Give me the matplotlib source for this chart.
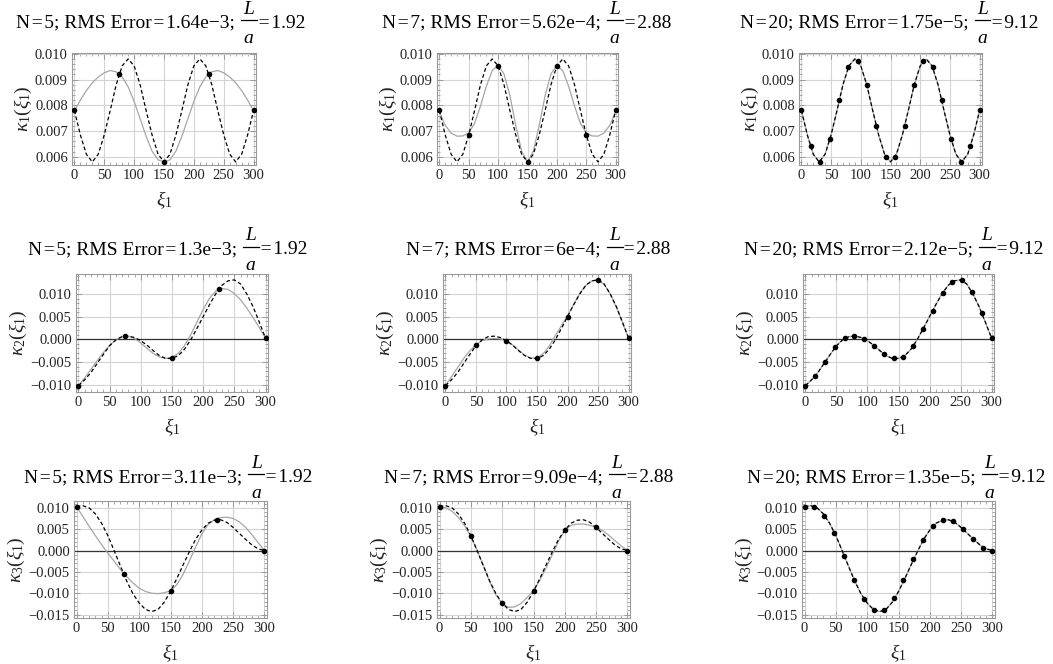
import matplotlib
matplotlib.use("Agg")
import matplotlib.pyplot as plt
from matplotlib.lines import Line2D
from matplotlib.ticker import MultipleLocator, FuncFormatter

plt.rcParams['font.family'] = ['Liberation Serif', 'DejaVu Serif']
plt.rcParams['mathtext.fontset'] = 'custom'
plt.rcParams['mathtext.rm'] = 'Liberation Serif'
plt.rcParams['mathtext.it'] = 'Liberation Serif:italic'
plt.rcParams['mathtext.bf'] = 'Liberation Serif:bold'

# --- data ---
xi = [0, 10, 20, 30, 40, 50, 60, 70, 80, 90, 100, 110, 120, 130, 140, 150,
      160, 170, 180, 190, 200, 210, 220, 230, 240, 250, 260, 270, 280, 290, 300]

# exact curvatures (dashed)
k1_true = [0.0078, 0.00685, 0.0061, 0.0058, 0.0061, 0.00685, 0.0078, 0.0088, 0.00953, 0.0098, 0.00953,
           0.0088, 0.0078, 0.00685, 0.0061, 0.0058, 0.0061, 0.00685, 0.0078, 0.0088, 0.00953,
           0.0098, 0.00953, 0.0088, 0.0078, 0.00685, 0.0061, 0.0058, 0.0061, 0.00685, 0.0078]
k2_true = [-0.0102, -0.0089, -0.0073, -0.0053, -0.0033, -0.0014, -0.0001, 0.0006, 0.0007, 0.0004, -0.0003,
           -0.0013, -0.0025, -0.0036, -0.0042, -0.0042, -0.0036, -0.0022, -0.0001, 0.0024, 0.0050,
           0.0076, 0.0100, 0.0119, 0.0129, 0.0131, 0.0122, 0.0100, 0.0072, 0.0038, 0.0003]
k3_true = [0.0103, 0.0105, 0.0100, 0.0086, 0.0064, 0.0035, 0.0000, -0.0036, -0.0071, -0.0101, -0.0123,
           -0.0138, -0.0143, -0.0138, -0.0121, -0.0096, -0.0066, -0.0034, -0.0003, 0.0026, 0.0048,
           0.0064, 0.0071, 0.0072, 0.0066, 0.0054, 0.0040, 0.0026, 0.0013, 0.0004, 0.0000]

# reconstructed curvatures (gray), N=5 and N=7
k1_n5 = [0.00778, 0.0082, 0.00857, 0.00887, 0.0091, 0.00926, 0.00935, 0.0093, 0.0091, 0.00872, 0.00815,
         0.00748, 0.0068, 0.00622, 0.00588, 0.0058, 0.00588, 0.00622, 0.0068, 0.00748, 0.00815,
         0.00872, 0.0091, 0.0093, 0.00935, 0.00926, 0.0091, 0.00887, 0.00857, 0.0082, 0.00778]
k1_n7 = [0.00775, 0.00722, 0.00692, 0.0068, 0.00681, 0.00693, 0.0073, 0.00797, 0.00874, 0.00935, 0.00955,
         0.00922, 0.00838, 0.00722, 0.00622, 0.0058, 0.00622, 0.00722, 0.00838, 0.00922, 0.00955,
         0.00935, 0.00874, 0.00797, 0.0073, 0.00693, 0.00681, 0.0068, 0.00692, 0.00722, 0.00775]
k2_n5 = [-0.0102, -0.0085, -0.0066, -0.0047, -0.0029, -0.0013, -0.0001, 0.0006, 0.0007, 0.0002, -0.0008,
         -0.0020, -0.0031, -0.0039, -0.0042, -0.0040, -0.0031, -0.0014, 0.0010, 0.0038, 0.0066,
         0.0090, 0.0106, 0.0112, 0.0110, 0.0101, 0.0087, 0.0069, 0.0048, 0.0026, 0.0003]
k2_n7 = [-0.0102, -0.0082, -0.0062, -0.0042, -0.0025, -0.0012, -0.0003, 0.0001, 0.0002, 0.0001, -0.0003,
         -0.0012, -0.0024, -0.0035, -0.0041, -0.0041, -0.0032, -0.0015, 0.0008, 0.0030, 0.0052,
         0.0077, 0.0101, 0.0119, 0.0129, 0.0130, 0.0121, 0.0100, 0.0071, 0.0037, 0.0003]
k3_n5 = [0.0103, 0.0080, 0.0057, 0.0035, 0.0014, -0.0006, -0.0025, -0.0044, -0.0061, -0.0076, -0.0088,
         -0.0096, -0.0100, -0.0101, -0.0099, -0.0094, -0.0080, -0.0056, -0.0025, 0.0008, 0.0039,
         0.0061, 0.0072, 0.0077, 0.0078, 0.0075, 0.0067, 0.0054, 0.0037, 0.0018, 0.0000]
k3_n7 = [0.0103, 0.0100, 0.0092, 0.0078, 0.0058, 0.0033, 0.0001, -0.0035, -0.0073, -0.0104, -0.0124,
         -0.0133, -0.0132, -0.0124, -0.0110, -0.0093, -0.0070, -0.0041, -0.0010, 0.0022, 0.0047,
         0.0059, 0.0062, 0.0062, 0.0059, 0.0055, 0.0047, 0.0036, 0.0023, 0.0011, 0.0000]

# sample points
x5 = [0, 75, 150, 225, 300]
x7 = [0, 50, 100, 150, 200, 250, 300]
x20 = [0, 15.8, 31.6, 47.4, 63.2, 78.9, 94.7, 110.5, 126.3, 142.1, 157.9, 173.7,
       189.5, 205.3, 221.1, 236.8, 252.6, 268.4, 284.2, 300]
k1_s5 = [0.0078, 0.0092, 0.0058, 0.0092, 0.0078]
k1_s7 = [0.0078, 0.00685, 0.00953, 0.0058, 0.00953, 0.00685, 0.0078]
k1_s20 = [0.0078, 0.0064, 0.0058, 0.0067, 0.0082, 0.0095, 0.0097, 0.0088, 0.0072, 0.0060,
          0.0060, 0.0072, 0.0088, 0.0097, 0.0095, 0.0082, 0.0067, 0.0058, 0.0064, 0.0078]
k2_s5 = [-0.0102, 0.0007, -0.0042, 0.0110, 0.0003]
k2_s7 = [-0.0102, -0.0013, -0.0003, -0.0042, 0.0050, 0.0131, 0.0003]
k2_s20 = [-0.0102, -0.0080, -0.0050, -0.0017, 0.0002, 0.0007, 0.0001, -0.0014, -0.0032, -0.0042,
          -0.0038, -0.0015, 0.0022, 0.0063, 0.0102, 0.0127, 0.0130, 0.0104, 0.0059, 0.0003]
k3_s5 = [0.0103, -0.0054, -0.0095, 0.0072, 0.0000]
k3_s7 = [0.0103, 0.0034, -0.0123, -0.0095, 0.0048, 0.0054, 0.0000]
k3_s20 = [0.0103, 0.0103, 0.0081, 0.0041, -0.0012, -0.0068, -0.0113, -0.0140, -0.0139, -0.0112,
          -0.0069, -0.0020, 0.0025, 0.0057, 0.0071, 0.0070, 0.0051, 0.0027, 0.0006, 0.0000]

n_vals = [5, 7, 20]
l_over_a = ["1.92", "2.88", "9.12"]
rms = [["1.64e\u22123", "5.62e\u22124", "1.75e\u22125"],
       ["1.3e\u22123", "6e\u22124", "2.12e\u22125"],
       ["3.11e\u22123", "9.09e\u22124", "1.35e\u22125"]]

true_curves = [k1_true, k2_true, k3_true]
approx = [[k1_n5, k1_n7, k1_true], [k2_n5, k2_n7, k2_true], [k3_n5, k3_n7, k3_true]]
samples_x = [x5, x7, x20]
samples_y = [[k1_s5, k1_s7, k1_s20], [k2_s5, k2_s7, k2_s20], [k3_s5, k3_s7, k3_s20]]
ylabels = [r"$\kappa_{\mathit{1}}(\xi_{\mathit{1}})$",
           r"$\kappa_{\mathit{2}}(\xi_{\mathit{1}})$",
           r"$\kappa_{\mathit{3}}(\xi_{\mathit{1}})$"]

# --- layout (pixel boxes: left, top, right, bottom) ---
W, H = 1053, 664
boxes = [[(72, 53, 256, 165), (437, 53, 618, 165), (799, 53, 982, 165)],
         [(76, 274, 268, 392), (443, 274, 631, 392), (803, 274, 994, 392)],
         [(74, 501, 267, 618), (437, 501, 630, 618), (802, 501, 995, 618)]]
title_cx = [[160, 526, 889], [167, 538, 893], [168, 528, 896]]
title_base = [27.5, 254.5, 482]
ylims = [(0.00568, 0.01003), (-0.0116, 0.0144), (-0.0158, 0.0116)]
ymajor = [0.001, 0.005, 0.005]
yminor = [0.0002, 0.001, 0.001]

fig = plt.figure(figsize=(W / 100, H / 100), dpi=100)
fig.patch.set_facecolor('white')
renderer = fig.canvas.get_renderer()

fmt = FuncFormatter(lambda v, p: ("%.3f" % v).replace("-", "\u2212") if abs(v) > 1e-9 else "0.000")
TS = 14
EQ = "\u200a=\u200a"


def ptext(x, y, s, **kw):
    # text placed in pixel coords measured from top-left
    return fig.text(x / W, 1 - y / H, s, fontsize=TS, va='baseline', **kw)


def width(t):
    return t.get_window_extent(renderer).width


def fraction_title(cx, base, main, value):
    t1 = ptext(0, base, main, ha='left')
    tl = ptext(0, base - 14, "L", ha='center', style='italic')
    ta = ptext(0, base + 15.5, "a", ha='center', style='italic')
    t3 = ptext(0, base, EQ + value, ha='left')
    w1, w3 = width(t1), width(t3)
    wf = max(width(tl), width(ta)) + 5
    x0 = cx - (w1 + wf + w3) / 2
    t1.set_x(x0 / W)
    xf = x0 + w1 + 1
    tl.set_x((xf + wf / 2) / W)
    ta.set_x((xf + wf / 2) / W)
    t3.set_x((xf + wf) / W)
    yb = 1 - (base - 8) / H
    fig.add_artist(Line2D([xf / W, (xf + wf) / W], [yb, yb], transform=fig.transFigure,
                          color='black', lw=0.9))


for r in range(3):
    for c in range(3):
        l, t, rr, b = boxes[r][c]
        ax = fig.add_axes([l / W, 1 - b / H, (rr - l) / W, (b - t) / H])
        ax.set_xlim(-4, 304)
        ax.set_ylim(*ylims[r])
        ax.xaxis.set_major_locator(MultipleLocator(50))
        ax.xaxis.set_minor_locator(MultipleLocator(10))
        ax.yaxis.set_major_locator(MultipleLocator(ymajor[r]))
        ax.yaxis.set_minor_locator(MultipleLocator(yminor[r]))
        ax.yaxis.set_major_formatter(fmt)
        ax.grid(True, which='major', color='#d4d4d4', lw=0.8)
        ax.set_axisbelow(True)
        if r > 0:
            ax.axhline(0, color='#333333', lw=0.9, zorder=1.5)
        for s in ax.spines.values():
            s.set_color('#9a9a9a')
            s.set_linewidth(0.8)
        ax.tick_params(which='both', direction='in', top=True, right=True,
                       color='#9a9a9a', labelsize=10.5, labelcolor='#222222', pad=3)
        ax.tick_params(which='major', length=4, width=0.7)
        ax.tick_params(which='minor', length=2, width=0.6)

        ax.plot(xi, approx[r][c], color='#a6a6a6', lw=0.9, zorder=2)
        ax.plot(xi, true_curves[r], color='black', lw=0.9, dashes=(3, 2), zorder=3)
        ax.plot(samples_x[c], samples_y[r][c], 'o', color='black', ms=3, zorder=4)

        ax.set_ylabel(ylabels[r], fontsize=14, labelpad=1, color='#222222')
        ax.set_xlabel(r"$\xi_{\mathit{1}}$", fontsize=14, labelpad=5, color='#222222')

        main = "N" + EQ + "%d; RMS Error" % n_vals[c] + EQ + rms[r][c] + "; "
        fraction_title(title_cx[r][c], title_base[r], main, l_over_a[c])

fig.savefig("out.png", dpi=100, facecolor='white')
